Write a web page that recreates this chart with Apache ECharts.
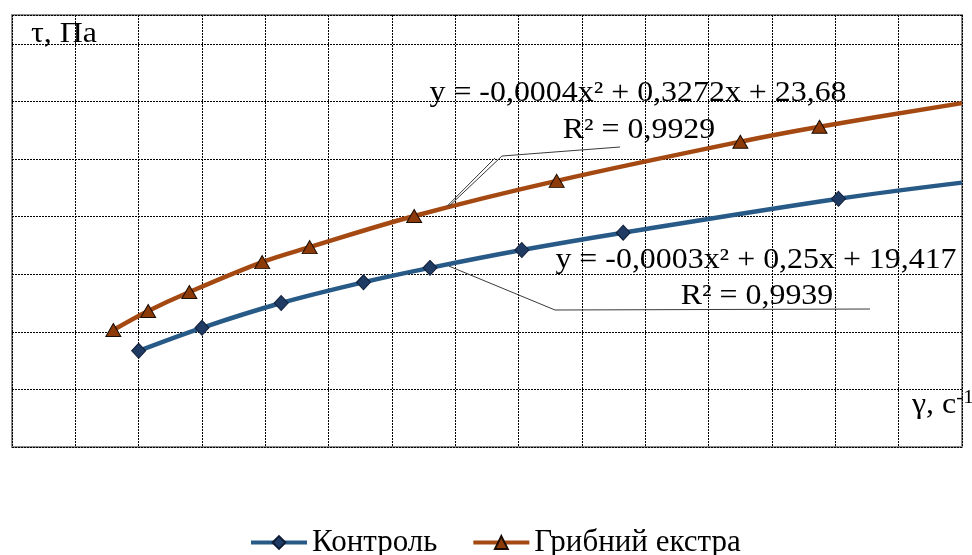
<!DOCTYPE html>
<html>
<head>
<meta charset="utf-8">
<script src="https://cdn.jsdelivr.net/npm/echarts@6/dist/echarts.min.js"></script>
<style>
  html, body { margin: 0; padding: 0; background: #ffffff; }
  #chart { width: 972px; height: 555px; }
</style>
</head>
<body>
<div id="chart"></div>
<script>
// Shear stress τ (Pa) against shear rate γ (1/s)
const seriesNames = ['Контроль', 'Грибний екстра'];

const gammaControl = [40, 60, 85, 111, 132, 161, 193, 261, 300];
const tauControl   = [16.7, 20.7, 25.0, 28.6, 31.1, 34.2, 37.2, 43.1, 45.9];

const gammaExtract = [32, 43, 56, 79, 94, 127, 172, 230, 255, 300];
const tauExtract   = [20.3, 23.6, 26.9, 32.1, 34.7, 40.1, 46.2, 53.0, 55.6, 59.7];

// trend equation captions
const eqExtract = 'y = -0,0004x² + 0,3272x + 23,68';
const r2Extract = 'R² = 0,9929';
const eqControl = 'y = -0,0003x² + 0,25x + 19,417';
const r2Control = 'R² = 0,9939';

const xTitle = 'γ, с';
const yTitle = 'τ, Па';

const FONT = "'Liberation Serif', 'Times New Roman', serif";
const WIDE = 1.1; // serif captions are set slightly wide

function pairs(xs, ys) {
  return xs.map((x, i) => {
    const item = { value: [x, ys[i]] };
    // the curve runs on to the edge of the plot without a marker there
    if (i === xs.length - 1) item.symbol = 'none';
    return item;
  });
}

const chart = echarts.init(document.getElementById('chart'), null, { renderer: 'canvas' });

const gridStyle = { color: '#000000', width: 1, type: [2, 1] };

chart.setOption({
  animation: false,
  backgroundColor: '#ffffff',
  grid: {
    left: 12, top: 15, width: 950, height: 432,
    show: true, borderColor: '#8e8e8e', borderWidth: 2, backgroundColor: 'transparent'
  },
  xAxis: {
    type: 'value', min: 0, max: 300, interval: 20,
    axisLine: { show: false }, axisTick: { show: false }, axisLabel: { show: false },
    splitLine: { show: true, lineStyle: gridStyle }
  },
  yAxis: {
    type: 'value', min: 0, max: 75, interval: 10,
    axisLine: { show: false }, axisTick: { show: false }, axisLabel: { show: false },
    splitLine: { show: true, lineStyle: gridStyle }
  },
  legend: {
    left: 244, top: 522,
    itemWidth: 56, itemHeight: 16, itemGap: 34,
    lineStyle: { width: 4 },
    textStyle: { fontFamily: FONT, fontSize: 31, color: '#000000' },
    data: seriesNames
  },
  series: [
    {
      name: seriesNames[0], type: 'line', smooth: 0.35,
      data: pairs(gammaControl, tauControl),
      symbol: 'diamond', symbolSize: [14, 15],
      lineStyle: { color: '#285a87', width: 4.5 },
      itemStyle: { color: '#1f3a63', borderColor: '#0e1d36', borderWidth: 1 },
      z: 3
    },
    {
      name: seriesNames[1], type: 'line', smooth: 0.35,
      data: pairs(gammaExtract, tauExtract),
      symbol: 'triangle', symbolSize: [15, 13],
      lineStyle: { color: '#a54912', width: 4.5 },
      itemStyle: { color: '#8c3a08', borderColor: '#1a0c02', borderWidth: 1 },
      z: 3
    }
  ]
});

// leader lines from the equation captions to the curves
const extractAnchor = chart.convertToPixel({ gridIndex: 0 }, [138, 41.8]);
const controlAnchor = chart.convertToPixel({ gridIndex: 0 }, [138, 31.4]);

const caption = (text, x, y) => ({
  type: 'text', x: x, y: y, z: 10, scaleX: WIDE,
  style: { text: text, fontFamily: FONT, fontSize: 29, fill: '#000000', align: 'center', verticalAlign: 'middle' }
});

chart.setOption({
  graphic: [
    {
      type: 'polyline', z: 5,
      shape: { points: [[620, 147], [502, 156], extractAnchor] },
      style: { stroke: '#3a3a3a', lineWidth: 1, fill: null }
    },
    {
      type: 'polyline', z: 5,
      shape: { points: [[495, 158], [extractAnchor[0] - 2, extractAnchor[1]]] },
      style: { stroke: '#3a3a3a', lineWidth: 1, fill: null }
    },
    {
      type: 'polyline', z: 5,
      shape: { points: [[870, 309], [555, 310], controlAnchor] },
      style: { stroke: '#3a3a3a', lineWidth: 1, fill: null }
    },
    caption(eqExtract, 638, 93),
    caption(r2Extract, 639, 130),
    caption(eqControl, 756, 260),
    caption(r2Control, 757, 296),
    {
      type: 'text', x: 31, y: 34, z: 10, scaleX: WIDE,
      style: { text: yTitle, fontFamily: FONT, fontSize: 29, fill: '#000000', align: 'left', verticalAlign: 'middle' }
    },
    {
      type: 'text', x: 912, y: 405, z: 10, scaleX: WIDE,
      style: {
        text: '{b|' + xTitle + '}{s|-1}',
        align: 'left', verticalAlign: 'middle',
        rich: {
          b: { fontFamily: FONT, fontSize: 29, fill: '#000000', color: '#000000' },
          s: { fontFamily: FONT, fontSize: 19, fill: '#000000', color: '#000000', verticalAlign: 'top', padding: [0, 0, 14, 0] }
        }
      }
    }
  ]
});
</script>
</body>
</html>
